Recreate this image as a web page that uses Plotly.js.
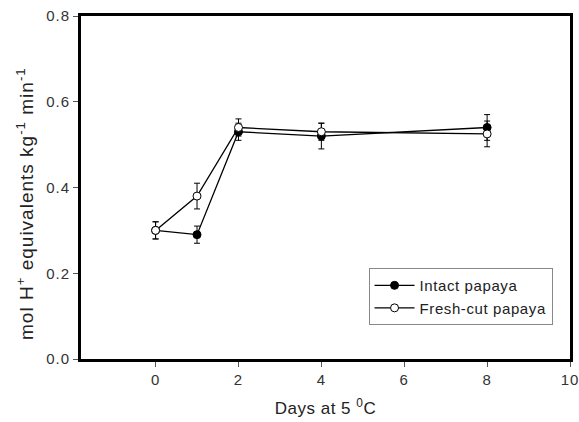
<!DOCTYPE html>
<html><head><meta charset="utf-8">
<script src="https://cdn.plot.ly/plotly-3.0.1.min.js"></script>
<style>
html,body{margin:0;padding:0;background:#fff;}
#chart{width:579px;height:422px;}
.xtick text, .ytick text {letter-spacing: 1px;}
.xtitle {letter-spacing: 0.5px;}
.annotation-text {letter-spacing: 1px;}
.legendtext {letter-spacing: 0.6px;}
</style>
</head><body><div id="chart"></div>
<script>
const days = [0, 1, 2, 4, 8];
const intact = [0.30, 0.29, 0.53, 0.52, 0.54];
const intactErr = [0.02, 0.02, 0.02, 0.03, 0.03];
const freshCut = [0.30, 0.38, 0.54, 0.53, 0.525];
const freshCutErr = [0.02, 0.03, 0.02, 0.02, 0.03];
const xTicks = [0, 2, 4, 6, 8, 10];
const yTicks = [0.0, 0.2, 0.4, 0.6, 0.8];

const traces = [
  {x: days, y: intact, name: 'Intact papaya', type: 'scatter', mode: 'lines+markers',
   line: {color: '#000', width: 1.3},
   marker: {symbol: 'circle', size: 8, color: '#000', line: {color: '#000', width: 1}},
   error_y: {type: 'data', array: intactErr, visible: true, color: '#000', thickness: 1, width: 3}},
  {x: days, y: freshCut, name: 'Fresh-cut papaya', type: 'scatter', mode: 'lines+markers',
   line: {color: '#000', width: 1.3},
   marker: {symbol: 'circle', size: 8, color: '#fff', line: {color: '#000', width: 1}},
   error_y: {type: 'data', array: freshCutErr, visible: true, color: '#000', thickness: 1, width: 3}}
];

const layout = {
  width: 579, height: 422,
  margin: {l: 81, r: 9, t: 16, b: 63},
  paper_bgcolor: '#fff', plot_bgcolor: '#fff',
  font: {family: 'Liberation Sans, Arial, sans-serif', color: '#000'},
  showlegend: true,
  legend: {x: 0.588, y: 0.265, xanchor: 'left', yanchor: 'top', bordercolor: '#888', borderwidth: 1,
           bgcolor: '#fff', font: {size: 15, color: '#222'}, itemwidth: 40, tracegroupgap: 0},
  xaxis: {range: [-1.8, 10], tickvals: xTicks, ticktext: xTicks.map(String),
          showgrid: false, zeroline: false, showline: true, mirror: true, linecolor: '#000', linewidth: 3,
          ticks: 'outside', ticklen: 5, tickcolor: '#555', tickwidth: 1, ticklabeloverflow: 'allow',
          tickfont: {size: 15, color: '#333'},
          title: {text: 'Days at 5 <sup>0</sup>C', font: {size: 17, color: '#222'}, standoff: 16}},
  yaxis: {range: [0, 0.8], tickvals: yTicks, ticktext: yTicks.map(v => v.toFixed(1)),
          showgrid: false, zeroline: false, showline: true, mirror: true, linecolor: '#000', linewidth: 3,
          ticks: 'outside', ticklen: 5, tickcolor: '#555', tickwidth: 1,
          tickfont: {size: 15, color: '#333'}},
  annotations: [{
    text: 'mol H<sup>+</sup> equivalents kg<sup>-1</sup> min<sup>-1</sup>',
    xref: 'paper', yref: 'paper', x: -0.1145, y: 0.452, xanchor: 'center', yanchor: 'middle',
    textangle: -90, showarrow: false, font: {size: 19, color: '#222'}
  }]
};
Plotly.newPlot('chart', traces, layout, {displayModeBar: false, staticPlot: true});
</script></body></html>
